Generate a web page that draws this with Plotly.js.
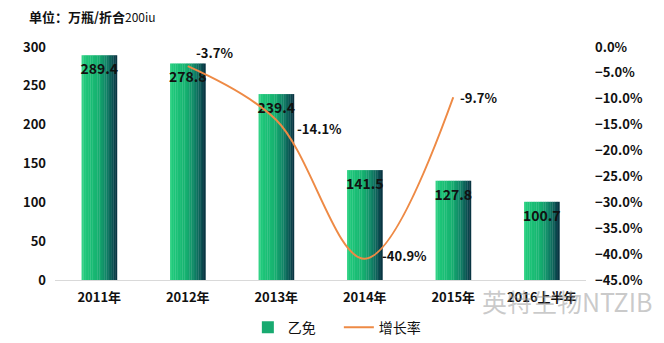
<!DOCTYPE html>
<html>
<head>
<meta charset="utf-8">
<script src="https://cdn.plot.ly/plotly-3.0.1.min.js"></script>
<style>html,body{margin:0;padding:0;background:#fff;}#chart{width:664px;height:343px;}</style>
</head>
<body>
<div id="chart"></div>
<script>
// ---- data ----
const categories = ['2011年', '2012年', '2013年', '2014年', '2015年', '2016上半年'];
const volume = [289.4, 278.8, 239.4, 141.5, 127.8, 100.7];
const growthCats = ['2012年', '2013年', '2014年', '2015年'];
const growth = [-0.037, -0.141, -0.409, -0.097];
const growthLabels = ['-3.7%', '-14.1%', '-40.9%', '-9.7%'];
const volumeLabels = ['289.4', '278.8', '239.4', '141.5', '127.8', '100.7'];
const seriesNames = ['乙免', '增长率'];

// ---- style ----
const FONT = '"Noto Sans CJK SC", "Microsoft YaHei", sans-serif';
const gradStops = [
  [0.0, [60, 214, 140]],
  [0.08, [30, 200, 122]],
  [0.45, [22, 178, 112]],
  [0.7, [16, 130, 102]],
  [0.88, [12, 82, 82]],
  [1.0, [8, 45, 62]]
];
function gradColor(t) {
  for (let k = 0; k < gradStops.length - 1; k++) {
    const [t0, c0] = gradStops[k], [t1, c1] = gradStops[k + 1];
    if (t >= t0 && t <= t1) {
      const f = (t - t0) / (t1 - t0);
      const c = c0.map((v, j) => Math.round(v + (c1[j] - v) * f));
      return `rgb(${c[0]},${c[1]},${c[2]})`;
    }
  }
  return 'rgb(8,45,62)';
}
// label offsets (px) for growth labels
const labelShiftX = [27, 43, 40, 25];
const labelShiftY = [14, -8, 3, 0];

const BW = 0.4, N = 20;
const traces = [];
for (let i = 0; i < N; i++) {
  traces.push({
    type: 'bar', x: categories, y: volume, yaxis: 'y',
    offset: -BW / 2 + i * BW / N, width: BW / N + 0.003,
    marker: {color: gradColor((i + 0.5) / N), line: {width: 0}},
    name: seriesNames[0], showlegend: false, hoverinfo: 'skip'
  });
}
// legend entry for bars
traces.push({
  type: 'bar', x: [categories[0]], y: [null], name: seriesNames[0],
  marker: {color: 'rgb(24,170,112)'}, showlegend: true, hoverinfo: 'skip'
});
// value labels
traces.push({
  type: 'bar', x: categories, y: volume, offset: -BW / 2, width: BW,
  marker: {color: 'rgba(0,0,0,0)'}, text: volumeLabels,
  textposition: 'inside', insidetextanchor: 'end', constraintext: 'none', textangle: 0,
  textfont: {family: FONT, size: 14, color: '#111', weight: 'bold'},
  showlegend: false, hoverinfo: 'skip'
});
// growth line
traces.push({
  type: 'scatter', mode: 'lines', x: growthCats, y: growth, yaxis: 'y2',
  name: seriesNames[1], line: {color: '#EE8A45', width: 2, shape: 'spline', smoothing: 1},
  hoverinfo: 'skip'
});

const annotations = [
  {xref: 'paper', yref: 'paper', x: -0.053, y: 1.13, xanchor: 'left', yanchor: 'middle',
   text: '单位：万瓶/折合<span style="font-weight:normal;font-size:12px">200iu</span>', showarrow: false,
   font: {family: FONT, size: 13, color: '#111', weight: 'bold'}},
  {xref: 'paper', yref: 'paper', x: 0.8, y: -0.09, xanchor: 'left', yanchor: 'middle',
   text: '英特生物NTZIB', showarrow: false,
   font: {family: FONT, size: 25, color: 'rgba(150,150,150,0.5)'}}
];
growthCats.forEach((c, i) => {
  annotations.push({xref: 'x', yref: 'y2', x: c, y: growth[i], text: growthLabels[i],
    showarrow: false, xshift: labelShiftX[i], yshift: labelShiftY[i],
    font: {family: FONT, size: 13, color: '#111', weight: 'bold'}});
});

const layout = {
  width: 664, height: 343,
  margin: {l: 55, r: 78, t: 47, b: 63, autoexpand: false},
  paper_bgcolor: '#fff', plot_bgcolor: '#fff',
  font: {family: FONT, color: '#111'},
  barmode: 'overlay',
  showlegend: true,
  legend: {orientation: 'h', x: 0.3632, xanchor: 'left', y: -0.205, yanchor: 'middle',
    font: {family: FONT, size: 14, color: '#111'}, entrywidth: 46, itemwidth: 30, traceorder: 'normal'},
  xaxis: {type: 'category', categoryorder: 'array', categoryarray: categories,
    showline: true, linecolor: '#d9d9d9', linewidth: 1, ticks: '', showgrid: false,
    automargin: false, ticklabelstandoff: 5,
    tickfont: {family: FONT, size: 13, color: '#111', weight: 'bold'}, zeroline: false},
  yaxis: {range: [0, 300], dtick: 50, showgrid: false, zeroline: false, showline: false,
    ticks: '', ticklabelstandoff: 8, automargin: false,
    tickfont: {family: FONT, size: 13, color: '#111', weight: 'bold'}},
  yaxis2: {overlaying: 'y', side: 'right', range: [-0.45, 0], dtick: 0.05, tickformat: '.1%',
    showgrid: false, zeroline: false, showline: false, ticks: '', ticklabelstandoff: 8, automargin: false,
    tickfont: {family: FONT, size: 13, color: '#111', weight: 'bold'}},
  annotations: annotations
};

Plotly.newPlot('chart', traces, layout, {displayModeBar: false, staticPlot: true});
</script>
</body>
</html>
